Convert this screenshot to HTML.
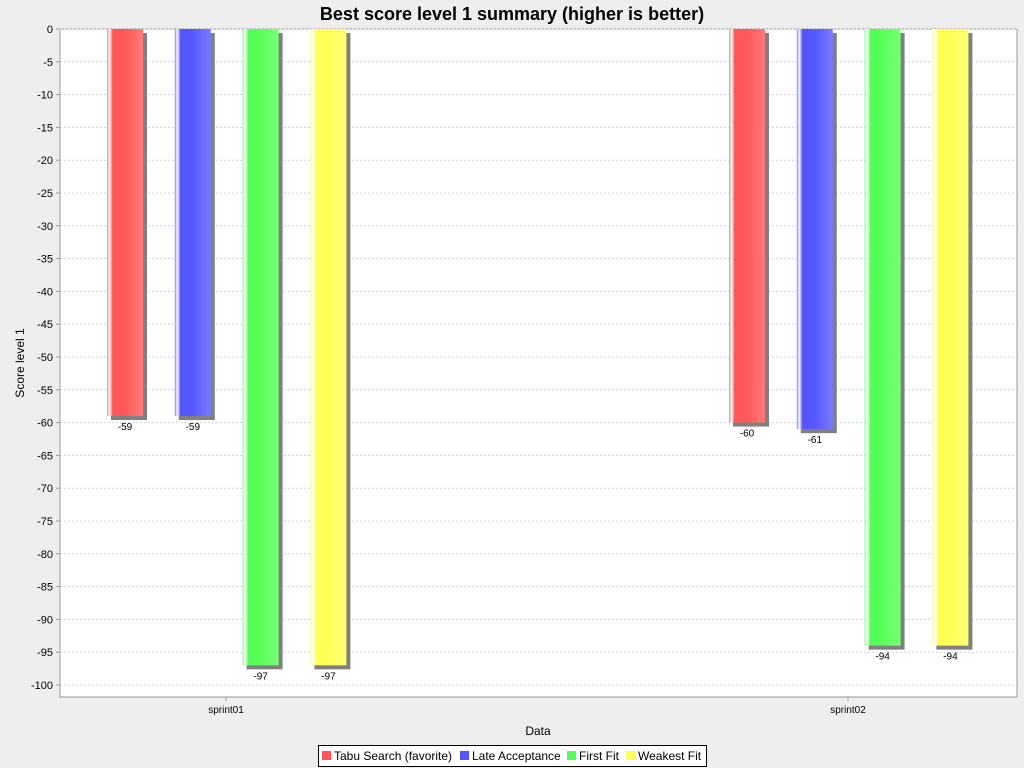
<!DOCTYPE html>
<html><head><meta charset="utf-8"><style>
body{margin:0;background:#eeeeee;font-family:"Liberation Sans",sans-serif;}
svg{display:block}
</style></head><body>
<svg id="c" width="1024" height="768" xmlns="http://www.w3.org/2000/svg">
<defs>
<linearGradient id="g0" x1="0" x2="1"><stop offset="0" stop-color="#ff8080"/><stop offset="0.07" stop-color="#ffffff"/><stop offset="0.16" stop-color="#ff5555"/><stop offset="0.5" stop-color="#ff5858"/><stop offset="1" stop-color="#ff7a7a"/></linearGradient>
<linearGradient id="g1" x1="0" x2="1"><stop offset="0" stop-color="#8080ff"/><stop offset="0.07" stop-color="#ffffff"/><stop offset="0.16" stop-color="#5555ff"/><stop offset="0.5" stop-color="#5858ff"/><stop offset="1" stop-color="#7a7aff"/></linearGradient>
<linearGradient id="g2" x1="0" x2="1"><stop offset="0" stop-color="#80ff80"/><stop offset="0.07" stop-color="#ffffff"/><stop offset="0.16" stop-color="#55ff55"/><stop offset="0.5" stop-color="#58ff58"/><stop offset="1" stop-color="#7aff7a"/></linearGradient>
<linearGradient id="g3" x1="0" x2="1"><stop offset="0" stop-color="#ffff80"/><stop offset="0.07" stop-color="#ffffff"/><stop offset="0.16" stop-color="#ffff55"/><stop offset="0.5" stop-color="#ffff58"/><stop offset="1" stop-color="#ffff7a"/></linearGradient>
</defs>
<text x="512" y="20" text-anchor="middle" font-size="18" font-weight="bold">Best score level 1 summary (higher is better)</text>
<rect x="60" y="29" width="957" height="668" fill="#fff" stroke="#999"/>
<g id="grid"></g><g id="bars"></g><g id="axes"></g>
<text x="538" y="735" text-anchor="middle" font-size="12">Data</text>
<text transform="translate(24,363) rotate(-90)" text-anchor="middle" font-size="12">Score level 1</text>
<g>
<rect x="318.5" y="745.5" width="388" height="21" fill="#fff" stroke="#000"/>
<g><rect x="322" y="751" width="9" height="9" fill="#ff5555"/><text x="334" y="760" font-size="12">Tabu Search (favorite)</text></g>
<g><rect x="460" y="751" width="9" height="9" fill="#5555ff"/><text x="472" y="760" font-size="12">Late Acceptance</text></g>
<g><rect x="567" y="751" width="9" height="9" fill="#55ff55"/><text x="579" y="760" font-size="12">First Fit</text></g>
<g><rect x="626" y="751" width="9" height="9" fill="#ffff55"/><text x="638" y="760" font-size="12">Weakest Fit</text></g>
</g>
</svg>
<script>
const categories=["sprint01","sprint02"];
const seriesNames=["Tabu Search (favorite)","Late Acceptance","First Fit","Weakest Fit"];
const tabu=[-59,-60];
const late=[-59,-61];
const firstFit=[-97,-94];
const weakest=[-97,-94];
const yTicks=[0,-5,-10,-15,-20,-25,-30,-35,-40,-45,-50,-55,-60,-65,-70,-75,-80,-85,-90,-95,-100];
const series=[tabu,late,firstFit,weakest];
const NS="http://www.w3.org/2000/svg";
function y(v){return 29+(-v)*6.56;}
function catCenter(i){return 226+i*622;}
function barX(i,s){return catCenter(i)-119+s*67.8;}
function mk(t,a,p){const e=document.createElementNS(NS,t);for(const k in a)e.setAttribute(k,a[k]);p.appendChild(e);return e;}
const grid=document.getElementById('grid'),axes=document.getElementById('axes'),bars=document.getElementById('bars');
yTicks.forEach(t=>{
  const l=mk('line',{x1:60,x2:1017,y1:y(t),y2:y(t),stroke:'#d0d0d0','stroke-dasharray':'2,2'},grid);
  
  
  mk('line',{x1:56,x2:60,y1:y(t),y2:y(t),stroke:'#999'},axes);
  const tx=mk('text',{x:53,y:y(t)+4,'text-anchor':'end','font-size':'11'},axes);
  tx.textContent=t;
  
  
});
categories.forEach((c,i)=>{
  mk('line',{x1:catCenter(i),x2:catCenter(i),y1:697,y2:701,stroke:'#999'},axes);
  const tx=mk('text',{x:catCenter(i),y:713,'text-anchor':'middle','font-size':'10'},axes);
  tx.textContent=c;
  
  
  series.forEach((s,k)=>{
    const x=barX(i,k),h=y(s[i])-29;
    const sh=mk('rect',{x:x+4,y:33,width:36,height:h,fill:'#808080'},bars);
    
    
    const r=mk('rect',{x:x,y:29,width:36,height:h,fill:'url(#g'+k+')'},bars);
    
    
    const lb=mk('text',{x:x+18,y:y(s[i])+14,'text-anchor':'middle','font-size':'10'},bars);
    lb.textContent=s[i];
    
    
  });
});
</script>
</body></html>
